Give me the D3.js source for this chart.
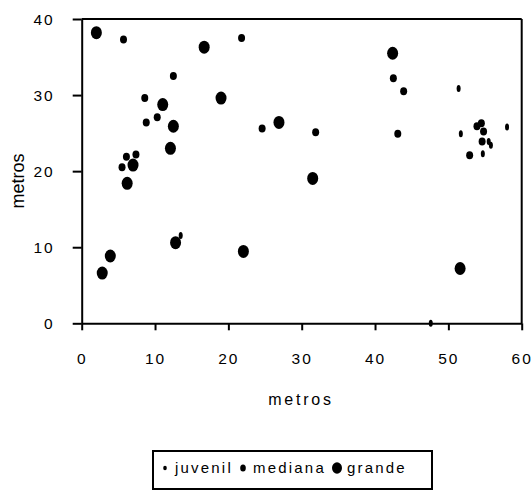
<!DOCTYPE html>
<html>
<head>
<meta charset="utf-8">
<script src="https://cdn.jsdelivr.net/npm/d3@7.9.0/dist/d3.min.js"></script>
<style>
  body { margin: 0; background: #fff; }
  svg { display: block; font-family: "Liberation Sans", Arial, sans-serif; }
</style>
</head>
<body>
<svg id="chart" width="532" height="491"></svg>
<script>
const xTicks = [0, 10, 20, 30, 40, 50, 60];
const yTicks = [0, 10, 20, 30, 40];

const seriesNames = ["juvenil", "mediana", "grande"];

const juvenilX = [51.4, 51.7, 58.0, 55.5, 55.8, 54.7, 13.5, 47.6];
const juvenilY = [30.85, 24.9, 25.8, 23.9, 23.4, 22.3, 11.55, 0];

const medianaX = [5.7, 21.8, 12.5, 8.6, 8.8, 10.3, 6.1, 7.4, 5.5, 24.6, 31.9, 42.5, 43.9, 43.1, 53.9, 54.5, 54.8, 54.6, 52.9];
const medianaY = [37.3, 37.5, 32.5, 29.6, 26.4, 27.1, 21.9, 22.2, 20.5, 25.6, 25.1, 32.2, 30.5, 24.9, 25.9, 26.3, 25.2, 23.9, 22.1];

const grandeX = [2.0, 16.7, 19.0, 11.05, 12.5, 12.1, 7.0, 6.2, 12.8, 3.9, 2.8, 31.5, 22.05, 26.9, 42.4, 51.6];
const grandeY = [38.2, 36.3, 29.6, 28.75, 25.9, 23.0, 20.8, 18.4, 10.6, 8.85, 6.6, 19.05, 9.45, 26.4, 35.5, 7.2];

// marker radii per series (markers are slightly taller than wide)
const markerSize = {
  juvenil: { rx: 2, ry: 3.5 },
  mediana: { rx: 3.5, ry: 4 },
  grande: { rx: 5.5, ry: 6.5 }
};
const legendSize = {
  juvenil: { rx: 1.8, ry: 2.3 },
  mediana: { rx: 2.8, ry: 3.6 },
  grande: { rx: 5, ry: 5.8 }
};

const svg = d3.select("#chart");

const x = d3.scaleLinear().domain([0, 60]).range([81.7, 521.7]);
const y = d3.scaleLinear().domain([0, 40]).range([323.3, 19]);

const series = [
  { name: "juvenil", xs: juvenilX, ys: juvenilY },
  { name: "mediana", xs: medianaX, ys: medianaY },
  { name: "grande", xs: grandeX, ys: grandeY }
];

// frame top + right
svg.append("line")
  .attr("x1", x(0)).attr("x2", x(60))
  .attr("y1", y(40)).attr("y2", y(40))
  .attr("stroke", "#000").attr("stroke-width", 2);
svg.append("line")
  .attr("x1", x(60)).attr("x2", x(60))
  .attr("y1", y(40)).attr("y2", y(0))
  .attr("stroke", "#000").attr("stroke-width", 2);

const xAxis = svg.append("g")
  .attr("transform", `translate(0,${y(0)})`)
  .call(d3.axisBottom(x).tickValues(xTicks).tickSize(7).tickSizeOuter(0).tickPadding(23));

const yAxis = svg.append("g")
  .attr("transform", `translate(${x(0)},0)`)
  .call(d3.axisLeft(y).tickValues(yTicks).tickSize(9).tickSizeOuter(0).tickPadding(18));

[xAxis, yAxis].forEach(g => {
  g.select(".domain").attr("stroke", "#000").attr("stroke-width", 2);
  g.selectAll(".tick line").attr("stroke", "#000").attr("stroke-width", 2);
  g.selectAll(".tick text")
    .attr("fill", "#000")
    .style("font-size", "15.5px")
    .style("letter-spacing", "2px")
    .style("font-family", "'Liberation Sans', Arial, sans-serif");
});
yAxis.selectAll(".tick text").attr("dy", "0.34em");

// axis titles
svg.append("text")
  .attr("x", 301)
  .attr("y", 405)
  .attr("text-anchor", "middle")
  .style("font-size", "16px")
  .style("letter-spacing", "2.8px")
  .text("metros");

svg.append("text")
  .attr("transform", "translate(24,181) rotate(-90)")
  .attr("text-anchor", "middle")
  .style("font-size", "18px")
  .text("metros");

// points
series.forEach(s => {
  const sz = markerSize[s.name];
  svg.append("g")
    .selectAll("ellipse")
    .data(s.xs.map((v, i) => ({ x: v, y: s.ys[i] })))
    .join("ellipse")
    .attr("cx", d => x(d.x))
    .attr("cy", d => y(d.y))
    .attr("rx", sz.rx)
    .attr("ry", sz.ry)
    .attr("fill", "#000");
});

// legend
const legend = svg.append("g");
legend.append("rect")
  .attr("x", 153).attr("y", 451)
  .attr("width", 279).attr("height", 38)
  .attr("fill", "none").attr("stroke", "#000").attr("stroke-width", 2);

const legendMarkX = [165, 243, 337];
seriesNames.forEach((name, i) => {
  const sz = legendSize[name];
  legend.append("ellipse")
    .attr("cx", legendMarkX[i]).attr("cy", 468)
    .attr("rx", sz.rx).attr("ry", sz.ry)
    .attr("fill", "#000");
  legend.append("text")
    .attr("x", legendMarkX[i] + 10)
    .attr("y", 473)
    .style("font-size", "15px")
    .style("letter-spacing", "2.2px")
    .text(name);
});
</script>
</body>
</html>
